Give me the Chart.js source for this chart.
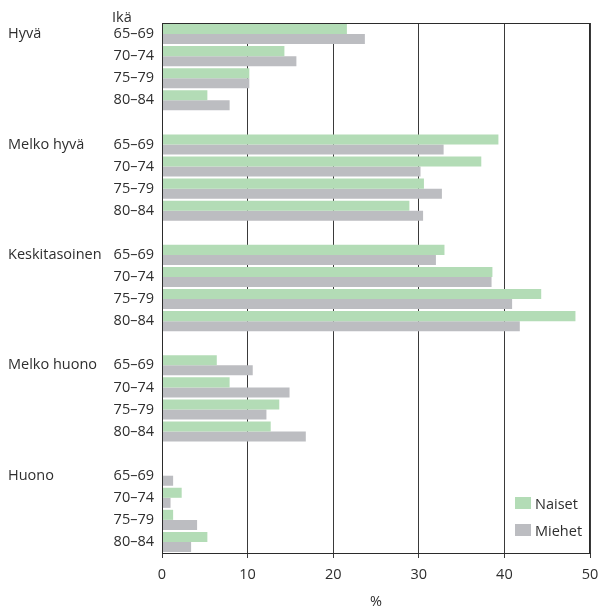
<!DOCTYPE html>
<html>
<head>
<meta charset="utf-8">
<script src="https://cdn.jsdelivr.net/npm/chart.js@4/dist/chart.umd.min.js"></script>
<style>
  html, body { margin: 0; padding: 0; background: #fff; }
  #wrap { position: relative; width: 598px; height: 611px; font-family: 'Open Sans', sans-serif; color: #2e2e2e; }
  #c { position: absolute; left: 0; top: 0; }
  .lbl { position: absolute; font-size: 14.5px; line-height: 17px; white-space: nowrap; }
  .sw { position: absolute; width: 16px; height: 12px; }
</style>
</head>
<body>
<div id="wrap">
  <canvas id="c" width="598" height="611"></canvas>
  <div class="lbl" id="ika" style="left:112px; top:8px;">Ikä</div>
  <div id="legend"></div>
</div>
<script>
// ---- data ----
const ageGroups = ['65–69', '70–74', '75–79', '80–84'];
const healthGroups = ['Hyvä', 'Melko hyvä', 'Keskitasoinen', 'Melko huono', 'Huono'];
const seriesNames = ['Naiset', 'Miehet'];
const naiset = [
  [21.6, 14.3, 10.2, 5.3],
  [39.3, 37.3, 30.6, 28.9],
  [33.0, 38.6, 44.3, 48.3],
  [6.4, 7.9, 13.7, 12.7],
  [0, 2.3, 1.3, 5.3]
];
const miehet = [
  [23.7, 15.7, 10.2, 7.9],
  [32.9, 30.2, 32.7, 30.5],
  [32.0, 38.5, 40.9, 41.8],
  [10.6, 14.9, 12.2, 16.8],
  [1.3, 1.0, 4.1, 3.4]
];
const xTickValues = [0, 10, 20, 30, 40, 50];
const xTitle = '%';

// ---- build rows (empty row between groups) ----
const ageLabels = [], groupLabels = [], nRows = [], mRows = [];
healthGroups.forEach((g, gi) => {
  ageGroups.forEach((a, ai) => {
    ageLabels.push(a);
    groupLabels.push(ai === 0 ? g : '');
    nRows.push(naiset[gi][ai]);
    mRows.push(miehet[gi][ai]);
  });
  if (gi < healthGroups.length - 1) {
    ageLabels.push(''); groupLabels.push(''); nRows.push(null); mRows.push(null);
  }
});

const colors = ['#b3dcb6', '#bcbdc1'];
const font = { family: "'Open Sans', sans-serif", size: 14.5 };
const textColor = '#2e2e2e';

const frame = {
  id: 'frame',
  afterDatasetsDraw(chart) {
    const a = chart.chartArea, ctx = chart.ctx;
    ctx.save();
    ctx.strokeStyle = '#2b2b2b';
    ctx.lineWidth = 1;
    ctx.strokeRect(Math.round(a.left) + 0.5, Math.round(a.top) + 0.5,
                   Math.round(a.right - a.left) - 1, Math.round(a.bottom - a.top));
    ctx.restore();
  }
};

const chart = new Chart(document.getElementById('c'), {
  type: 'bar',
  data: {
    labels: ageLabels,
    datasets: [
      { label: seriesNames[0], data: nRows, backgroundColor: colors[0], borderWidth: 0 },
      { label: seriesNames[1], data: mRows, backgroundColor: colors[1], borderWidth: 0 }
    ]
  },
  options: {
    indexAxis: 'y',
    responsive: false,
    animation: false,
    events: [],
    layout: { padding: { top: 23, left: 8, right: 0, bottom: 0 } },
    datasets: { bar: { categoryPercentage: 0.91, barPercentage: 1.0 } },
    plugins: { legend: { display: false }, tooltip: { enabled: false } },
    scales: {
      x: {
        type: 'linear',
        min: 0, max: 50,
        afterBuildTicks(scale) { scale.ticks = xTickValues.map(v => ({ value: v })); },
        afterFit(scale) { scale.height = 58; scale.paddingRight = 8; scale.paddingLeft = 0; },
        grid: { color: '#3a3a3a', lineWidth: 1, tickLength: 5, drawTicks: true, tickColor: '#3a3a3a' },
        border: { color: '#2b2b2b', width: 1 },
        ticks: { font, color: textColor, padding: 8, maxRotation: 0 },
        title: { display: true, text: xTitle, font, color: textColor, padding: { top: 0, bottom: 0 } }
      },
      y: {
        type: 'category',
        position: 'left',
        weight: 0,
        offset: true,
        afterFit(scale) { scale.width = 54; },
        grid: { display: false, drawTicks: false },
        border: { color: '#2b2b2b', width: 1 },
        ticks: { font, color: textColor, padding: 8, autoSkip: false }
      },
      y2: {
        type: 'category',
        position: 'left',
        weight: 10,
        offset: true,
        labels: groupLabels,
        afterFit(scale) { scale.width = 100; },
        grid: { display: false, drawTicks: false },
        border: { display: false },
        ticks: { font, color: textColor, padding: 0, autoSkip: false, crossAlign: 'far' }
      }
    }
  },
  plugins: [frame]
});

// legend (HTML) from datasets
const leg = document.getElementById('legend');
const legPos = [{ sy: 497, ty: 495 }, { sy: 524, ty: 522 }];
chart.data.datasets.forEach((ds, i) => {
  const sw = document.createElement('div');
  sw.className = 'sw';
  sw.style.left = '515px'; sw.style.top = legPos[i].sy + 'px';
  sw.style.background = ds.backgroundColor;
  leg.appendChild(sw);
  const t = document.createElement('div');
  t.className = 'lbl';
  t.style.left = '535px'; t.style.top = legPos[i].ty + 'px';
  t.textContent = ds.label;
  leg.appendChild(t);
});
</script>
</body>
</html>
